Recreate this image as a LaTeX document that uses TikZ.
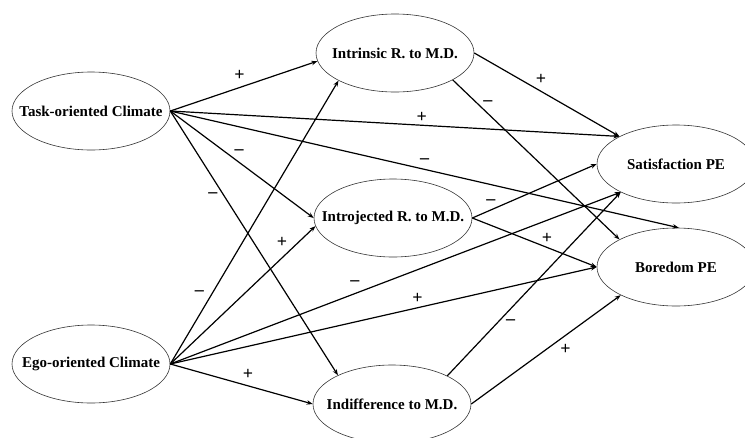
\documentclass[tikz,border=0pt]{standalone}
\usepackage{fontspec}
\setmainfont{Liberation Serif}
\usepackage{tikz}
\usetikzlibrary{arrows.meta, shapes, positioning}
\tikzset{
    ellipsenode/.style = {draw=black!80, ellipse, line width=0.6pt, inner sep = 0em, node distance=0em,
      minimum width=158pt, minimum height=78pt, font=\fontsize{15}{18}\selectfont\bfseries},
    signnode/.style = {draw=none, fill=none, rectangle, inner sep = 0em, font=\fontsize{18}{18}\selectfont\bfseries},
    connect/.style = {black, line width=1.2pt, -{Stealth[length=6pt, width=4.5pt]}}
}
\newcommand{\ovaltext}[1]{\makebox[0pt]{#1}}

\begin{document}
\begin{tikzpicture}[x=1pt, y=-1pt]
\useasboundingbox (0,0) rectangle (745,437);
% latent variables
\node [name=task, ellipsenode] at (91,111) {\ovaltext{Task-oriented Climate}};
\node [name=ego, ellipsenode, below of = task, yshift=-253pt] {\ovaltext{Ego-oriented Climate}};
\node [name=intr, ellipsenode, right of = task, xshift=304pt, yshift=58pt] {\ovaltext{Intrinsic R. to M.D.}};
\node [name=introj, ellipsenode, right of = task, xshift=302pt, yshift=-107pt] {\ovaltext{Introjected R. to M.D.}};
\node [name=indif, ellipsenode, right of = ego, xshift=301pt, yshift=-40pt] {\ovaltext{Indifference to M.D.}};
\node [name=sat, ellipsenode, right of = intr, xshift=281pt, yshift=-111pt] {\ovaltext{Satisfaction PE}};
\node [name=bor, ellipsenode, below of = sat, yshift=-103pt] {\ovaltext{Boredom PE}};
% paths from task climate
\draw (task.east) edge[connect] node[signnode, pos=0.47, yshift=12pt] {+} (intr.186)
                  edge[connect] node[signnode, pos=0.56, yshift=8pt] {+} (sat.154)
                  edge[connect] node[signnode, pos=0.50, yshift=8pt] {--} (bor.86)
                  edge[connect] node[signnode, pos=0.48, yshift=10pt] {--} (introj.180)
                  edge[connect] node[signnode, pos=0.32, xshift=-11pt] {--} (indif.152);
% paths from ego climate
\draw (ego.east) edge[connect] node[signnode, pos=0.25, xshift=-13pt] {--} (intr.206)
                 edge[connect] node[signnode, pos=0.88, xshift=-16pt] {+} (introj.186)
                 edge[connect] node[signnode, pos=0.41, yshift=10pt] {--} (sat.207)
                 edge[connect] node[signnode, pos=0.58, yshift=9.5pt] {+} (bor.west)
                 edge[connect] node[signnode, pos=0.545, yshift=11.5pt] {+} (indif.west);
% paths from the mediators
\draw (intr.east) edge[connect] node[signnode, pos=0.46, yshift=12pt] {+} (sat.154);
\draw (intr.-25) edge[connect] node[signnode, pos=0.21, yshift=10pt] {--} (bor.154);
\draw (introj.east) edge[connect] node[signnode, pos=0.15, yshift=8pt] {--} (sat.west)
                    edge[connect] node[signnode, pos=0.60, yshift=9pt] {+} (bor.west);
\draw (indif.27) edge[connect] node[signnode, pos=0.29, xshift=13pt] {--} (sat.207);
\draw (indif.east) edge[connect] node[signnode, pos=0.63, yshift=-14pt] {+} (bor.207);
\end{tikzpicture}
\end{document}
